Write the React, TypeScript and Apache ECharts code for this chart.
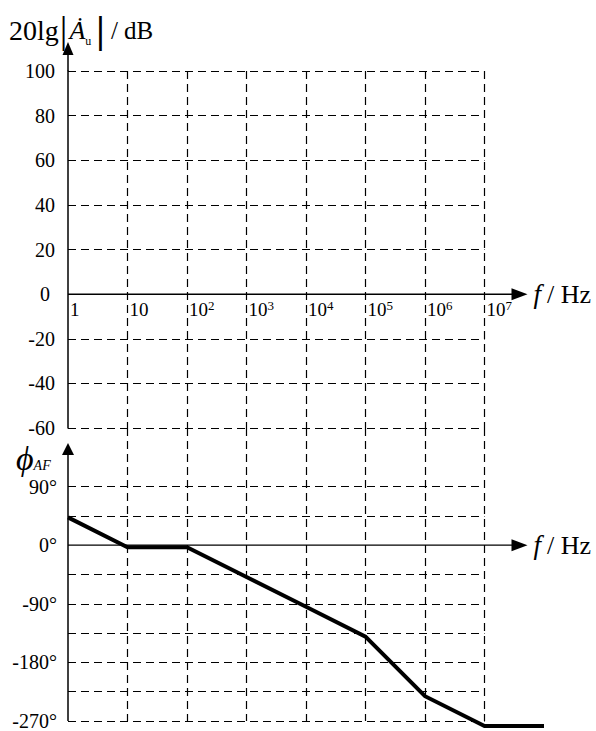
import React, { useEffect, useRef } from 'react';
import * as echarts from 'echarts';

// ---- data ----
const freqMin = 1;
const freqMax = 1e7;
const freqLineMax = 1e8;
const dbMin = -60;
const dbMax = 100;
const dbStep = 20;
const phaseMin = -270;
const phaseMax = 180;
const phaseStep = 45;
const phaseLabelValues = [90, 0, -90, -180, -270];
const phaseFreq = [1, 10, 100, 1e3, 1e4, 1e5, 1e6, 1e7, 1e8];
const phaseDeg = [45, 0, 0, -45, -90, -135, -225, -270, -270];
const titleText = '20lg';
const unitText = '/ dB';
const freqUnit = 'Hz';

const SERIF = '"Liberation Serif", "Times New Roman", serif';
const dash = [8, 5];

const G0 = { left: 68, top: 71, width: 416.5, height: 357 };
const G1 = { left: 68, top: 428, width: 416.5, height: 298 };
const G2 = { left: 68, top: 428, width: 476, height: 298 };

export default function App() {
  const ref = useRef<HTMLDivElement>(null);

  useEffect(() => {
    if (!ref.current) return;
    const chart = echarts.init(ref.current, null, { renderer: 'svg' });

    const dbTickVals: number[] = [];
    for (let v = dbMin; v <= dbMax; v += dbStep) dbTickVals.push(v);
    const dbColors = dbTickVals.map((v) => (v === 0 ? 'rgba(0,0,0,0)' : '#000'));
    const phTickVals: number[] = [];
    for (let v = phaseMin; v <= phaseMax; v += phaseStep) phTickVals.push(v);
    const phColors = phTickVals.map((v) => (v === 0 || v > 90 ? 'rgba(0,0,0,0)' : '#000'));

    const xLabel = (v: number) => {
      const e = Math.round(Math.log10(v));
      if (e <= 1) return '{b|' + String(Math.round(v)) + '}';
      return '{b|10}{s|' + e + '}';
    };

    // offset that brings the x axis labels up to the value 0 of the y axis
    const zeroOffset0 = -G0.height * (0 - dbMin) / (dbMax - dbMin);

    const baseX = (gridIndex: number, showLabels: boolean, offset: number) => ({
      type: 'log',
      logBase: 10,
      gridIndex,
      min: freqMin,
      max: freqMax,
      splitNumber: 7,
      position: 'bottom',
      offset,
      axisLine: { show: false, onZero: false },
      axisTick: { show: false },
      minorTick: { show: false },
      axisLabel: {
        show: showLabels,
        formatter: xLabel,
        align: 'left',
        margin: 5,
        padding: [0, 0, 0, 2],
        color: '#000',
        rich: {
          b: { fontFamily: SERIF, fontSize: 19, color: '#000', lineHeight: 21 },
          s: { fontFamily: SERIF, fontSize: 13, color: '#000', verticalAlign: 'top', lineHeight: 13 },
        },
      },
      splitLine: {
        show: true,
        showMinLine: false,
        showMaxLine: true,
        lineStyle: { color: '#000', type: dash, width: 1.2 },
      },
    });

    const option: any = {
      animation: false,
      backgroundColor: '#fff',
      grid: [G0, G1, G2],
      xAxis: [
        baseX(0, true, zeroOffset0),
        baseX(1, false, 0),
        {
          type: 'log',
          logBase: 10,
          gridIndex: 2,
          min: freqMin,
          max: freqLineMax,
          show: false,
        },
      ],
      yAxis: [
        {
          type: 'value',
          gridIndex: 0,
          min: dbMin,
          max: dbMax,
          interval: dbStep,
          axisLine: { show: true, onZero: false, lineStyle: { color: '#000', width: 1.5 } },
          axisTick: { show: false },
          axisLabel: {
            margin: 13,
            fontFamily: SERIF,
            fontSize: 20,
            color: '#000',
            formatter: (v: number) => (v === 0 ? '{z|0}' : String(v)),
            rich: { z: { fontFamily: SERIF, fontSize: 20, color: '#000', padding: [0, 5, 0, 0] } },
          },
          splitLine: {
            show: true,
            showMinLine: true,
            showMaxLine: true,
            lineStyle: { color: dbColors, type: dash, width: 1.2 },
          },
        },
        {
          type: 'value',
          gridIndex: 1,
          min: phaseMin,
          max: phaseMax,
          interval: phaseStep,
          axisLine: { show: false },
          axisTick: { show: false },
          axisLabel: {
            margin: 11,
            fontFamily: SERIF,
            fontSize: 20,
            color: '#000',
            formatter: (v: number) => (phaseLabelValues.indexOf(v) >= 0 ? v + '°' : ''),
          },
          splitLine: {
            show: true,
            showMinLine: true,
            showMaxLine: true,
            lineStyle: { color: phColors, type: dash, width: 1.2 },
          },
        },
        {
          type: 'value',
          gridIndex: 2,
          min: phaseMin,
          max: phaseMax,
          interval: phaseStep,
          show: false,
        },
      ],
      series: [
        {
          type: 'line',
          xAxisIndex: 2,
          yAxisIndex: 2,
          data: phaseFreq.map((f, i) => [f, phaseDeg[i]]),
          symbol: 'none',
          lineStyle: { color: '#000', width: 4, join: 'miter' },
          silent: true,
        },
      ],
    };
    chart.setOption(option);

    const px = (g: number, x: number, y: number) =>
      chart.convertToPixel({ gridIndex: g } as any, [x, y]) as number[];

    const dbTop = px(0, freqMin, dbMax);
    const dbZeroStart = px(0, freqMin, 0);
    const dbZeroEnd = px(0, freqMax, 0);
    const phTop = px(1, freqMin, phaseMax);
    const phBottom = px(1, freqMin, phaseMin);
    const phZeroStart = px(1, freqMin, 0);
    const phZeroEnd = px(1, freqMax, 0);

    const stroke = { stroke: '#000', lineWidth: 1.5 };
    const arrowRight = (s: number[], e: number[], w: number) => [
      { type: 'line', shape: { x1: s[0], y1: s[1], x2: e[0] + 34, y2: e[1] }, style: { stroke: '#000', lineWidth: w } },
      {
        type: 'polygon',
        shape: { points: [[e[0] + 43, e[1]], [e[0] + 27, e[1] - 6], [e[0] + 27, e[1] + 6]] },
        style: { fill: '#000' },
      },
      {
        type: 'text',
        x: e[0] + 49,
        y: e[1],
        style: {
          text: '{f|f}{u|/ ' + freqUnit + '}',
          verticalAlign: 'middle',
          rich: {
            f: { fontFamily: SERIF, fontSize: 27, fontStyle: 'italic', fill: '#000', padding: [0, 6, 0, 0] },
            u: { fontFamily: SERIF, fontSize: 26, fill: '#000' },
          },
        },
      },
    ];

    const graphics: any[] = [
      // dB axis arrow
      { type: 'line', shape: { x1: dbTop[0], y1: dbTop[1], x2: dbTop[0], y2: dbTop[1] - 20 }, style: stroke },
      {
        type: 'polygon',
        shape: { points: [[dbTop[0], dbTop[1] - 29], [dbTop[0] - 5.5, dbTop[1] - 16], [dbTop[0] + 5.5, dbTop[1] - 16]] },
        style: { fill: '#000' },
      },
      ...arrowRight(dbZeroStart, dbZeroEnd, 1.5),
      // phase axis
      { type: 'line', shape: { x1: phBottom[0], y1: phBottom[1], x2: phTop[0], y2: phTop[1] + 22 }, style: stroke },
      {
        type: 'polygon',
        shape: { points: [[phTop[0], phTop[1] + 15], [phTop[0] - 6, phTop[1] + 27], [phTop[0] + 6, phTop[1] + 27]] },
        style: { fill: '#000' },
      },
      ...arrowRight(phZeroStart, phZeroEnd, 1.2),
      // title
      {
        type: 'text',
        x: 9,
        y: 30,
        style: {
          text: '{n|' + titleText + '}{p||}{a|Ȧ}{u|u}{q||}{m| ' + unitText + '}',
          verticalAlign: 'middle',
          rich: {
            n: { fontFamily: SERIF, fontSize: 28, fill: '#000' },
            p: { fontFamily: SERIF, fontSize: 38, fill: '#000', padding: [0, 2, 0, 1] },
            a: { fontFamily: SERIF, fontSize: 26, fontStyle: 'italic', fill: '#000' },
            u: { fontFamily: SERIF, fontSize: 12, fill: '#000', verticalAlign: 'bottom', padding: [0, 5, 2, 0] },
            q: { fontFamily: SERIF, fontSize: 38, fontWeight: 'bold', fill: '#000' },
            m: { fontFamily: SERIF, fontSize: 25, fill: '#000' },
          },
        },
      },
      // phase label
      {
        type: 'text',
        x: 16,
        y: 458,
        style: {
          text: '{p|ϕ}{s|AF}',
          verticalAlign: 'middle',
          rich: {
            p: { fontFamily: SERIF, fontSize: 34, fontStyle: 'italic', fill: '#000' },
            s: { fontFamily: SERIF, fontSize: 14, fontStyle: 'italic', fill: '#000', verticalAlign: 'bottom', padding: [0, 0, 3, 0] },
          },
        },
      },
    ];
    chart.setOption({ graphic: graphics });

    return () => chart.dispose();
  }, []);

  return (
    <div
      ref={ref}
      style={{ position: 'fixed', left: 0, top: 0, width: 596, height: 731, background: '#fff' }}
    />
  );
}
